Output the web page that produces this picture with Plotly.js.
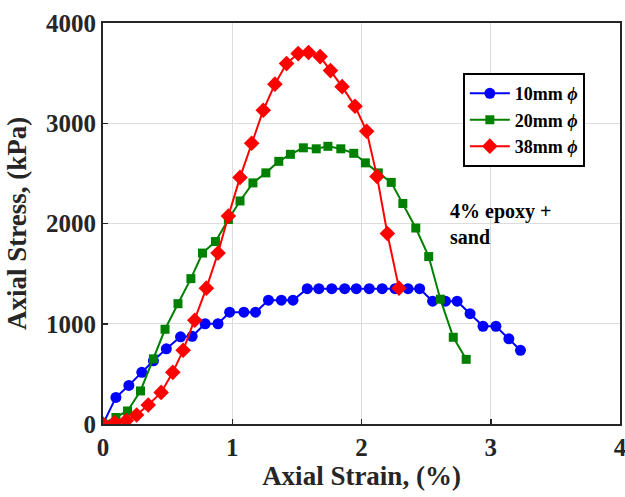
<!DOCTYPE html>
<html>
<head>
<meta charset="utf-8">
<script src="https://cdn.plot.ly/plotly-3.0.1.min.js"></script>
<style>html,body{margin:0;padding:0;background:#fff;}#chart{width:625px;height:497px;}</style>
</head>
<body>
<div id="chart"></div>
<script>
// Series: 10mm phi (blue circles)
const strain10 = [0, 0.10, 0.20, 0.30, 0.39, 0.49, 0.60, 0.69, 0.79, 0.89, 0.98, 1.09, 1.18, 1.28, 1.38, 1.47, 1.58, 1.67, 1.77, 1.87, 1.96, 2.06, 2.16, 2.26, 2.36, 2.45, 2.55, 2.65, 2.74, 2.84, 2.94, 3.04, 3.14, 3.23];
const stress10 = [0, 265, 385, 515, 630, 750, 870, 875, 1000, 1000, 1115, 1115, 1115, 1235, 1235, 1235, 1350, 1350, 1350, 1350, 1350, 1350, 1350, 1350, 1350, 1350, 1225, 1225, 1225, 1100, 975, 975, 850, 735];
// Series: 20mm phi (green squares)
const strain20 = [0, 0.10, 0.19, 0.29, 0.39, 0.48, 0.58, 0.68, 0.77, 0.87, 0.97, 1.06, 1.16, 1.26, 1.36, 1.45, 1.55, 1.65, 1.74, 1.84, 1.94, 2.03, 2.13, 2.23, 2.32, 2.42, 2.52, 2.61, 2.71, 2.81];
const stress20 = [0, 65, 130, 330, 650, 945, 1200, 1450, 1705, 1820, 2040, 2225, 2405, 2505, 2620, 2690, 2755, 2745, 2770, 2745, 2700, 2605, 2505, 2410, 2200, 1955, 1670, 1245, 865, 645];
// Series: 38mm phi (red diamonds)
const strain38 = [0, 0.09, 0.18, 0.26, 0.35, 0.45, 0.54, 0.62, 0.71, 0.80, 0.89, 0.97, 1.06, 1.15, 1.24, 1.33, 1.42, 1.51, 1.59, 1.68, 1.76, 1.85, 1.95, 2.04, 2.12, 2.20, 2.29];
const stress38 = [0, 15, 35, 90, 190, 315, 515, 735, 1035, 1355, 1705, 2075, 2460, 2800, 3130, 3390, 3595, 3695, 3705, 3665, 3525, 3365, 3170, 2920, 2470, 1900, 1355];

const seriesNames = ['<b>10mm <i>ϕ</i></b>', '<b>20mm <i>ϕ</i></b>', '<b>38mm <i>ϕ</i></b>'];
const xTicks = [0, 1, 2, 3, 4];
const yTicks = [0, 1000, 2000, 3000, 4000];
const annotationText = '<b>4% epoxy +<br>sand</b>';

const FONT = 'Liberation Serif, Times New Roman, serif';
const AX = '#262626';

const traces = [
  {x: strain10, y: stress10, name: seriesNames[0], type: 'scatter', mode: 'lines+markers',
   line: {color: '#0000ff', width: 2}, marker: {symbol: 'circle', size: 11, color: '#0000ff'}},
  {x: strain20, y: stress20, name: seriesNames[1], type: 'scatter', mode: 'lines+markers',
   line: {color: '#008000', width: 2}, marker: {symbol: 'square', size: 9, color: '#008000'}},
  {x: strain38, y: stress38, name: seriesNames[2], type: 'scatter', mode: 'lines+markers',
   line: {color: '#ff0000', width: 2}, marker: {symbol: 'diamond', size: 12, color: '#ff0000'}}
];

const axisCommon = {
  showline: true, linecolor: AX, linewidth: 2, mirror: true,
  ticks: 'inside', ticklen: 5, tickwidth: 1.5, tickcolor: AX,
  showgrid: true, gridcolor: '#dcdcdc', gridwidth: 1,
  zeroline: false,
  ticklabeloverflow: 'allow',
  tickfont: {family: FONT, size: 25, color: AX, weight: 'bold'}
};

const layout = {
  width: 625, height: 497,
  margin: {l: 103, r: 5, t: 23, b: 73},
  paper_bgcolor: '#ffffff', plot_bgcolor: '#ffffff',
  showlegend: true,
  legend: {
    x: 0.696, y: 0.875, xanchor: 'left', yanchor: 'top',
    bordercolor: '#000000', borderwidth: 2, bgcolor: '#ffffff',
    font: {family: FONT, size: 18, color: '#000000'},
    tracegroupgap: 0, itemwidth: 40
  },
  xaxis: Object.assign({}, axisCommon, {
    range: [0, 4], tickvals: xTicks, ticktext: xTicks.map(String),
    title: {text: '<b>Axial Strain, (%)</b>', font: {family: FONT, size: 27, color: AX}, standoff: 4}
  }),
  yaxis: Object.assign({}, axisCommon, {
    range: [0, 4000], tickvals: yTicks, ticktext: yTicks.map(String),
    title: {text: '<b>Axial Stress, (kPa)</b>', font: {family: FONT, size: 27, color: AX}, standoff: 12}
  }),
  annotations: [{
    x: 2.67, y: 2000, xref: 'x', yref: 'y', xanchor: 'left', yanchor: 'middle',
    text: annotationText, showarrow: false, align: 'left',
    font: {family: FONT, size: 20, color: '#000000'}
  }]
};

Plotly.newPlot('chart', traces, layout, {displayModeBar: false, staticPlot: true});
</script>
</body>
</html>
